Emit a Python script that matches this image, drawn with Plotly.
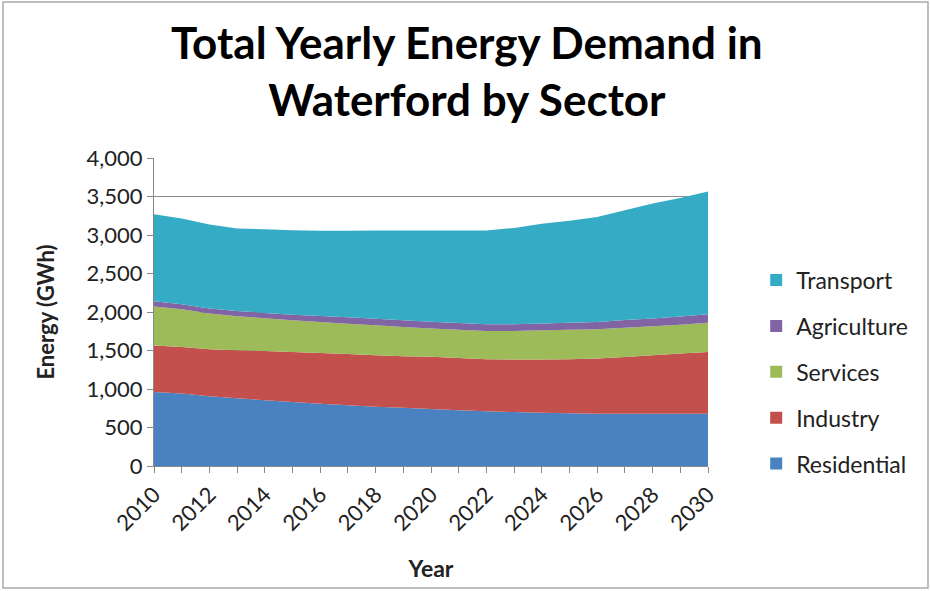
import plotly.graph_objects as go

years = list(range(2010, 2031))
residential = [960, 940, 905, 880, 855, 830, 810, 790, 770, 755, 740, 725, 710, 700, 690, 685, 680, 680, 680, 680, 680]
industry = [604, 605, 611, 623, 639, 651, 658, 665, 668, 670, 678, 678, 676, 682, 692, 701, 715, 736, 758, 780, 801]
services = [508, 490, 463, 443, 426, 411, 402, 394, 389, 380, 368, 368, 367, 371, 380, 382, 380, 381, 376, 376, 381]
agriculture = [68, 67, 66, 67, 68, 72, 78, 83, 85, 87, 87, 87, 87, 88, 89, 92, 96, 100, 103, 106, 110]
transport = [1129, 1111, 1090, 1070, 1086, 1099, 1107, 1123, 1146, 1168, 1187, 1202, 1220, 1250, 1296, 1325, 1364, 1424, 1491, 1539, 1593]

series = [
    ("Residential", residential, "#4A82C1"),
    ("Industry", industry, "#C3504C"),
    ("Services", services, "#9DBB59"),
    ("Agriculture", agriculture, "#8164A3"),
    ("Transport", transport, "#35ABC6"),
]

FONT = "Lato"
fig = go.Figure()
for name, vals, col in series:
    fig.add_trace(go.Scatter(
        x=years, y=vals, name=name, stackgroup="one", mode="none",
        fillcolor=col, line=dict(width=0), showlegend=False,
        hoverinfo="x+y+name",
    ))
for name, vals, col in reversed(series):
    fig.add_trace(go.Scatter(
        x=[None], y=[None], name=name, mode="markers",
        marker=dict(symbol="square", size=16, color=col),
        legendgroup=name, showlegend=True,
    ))

fig.update_layout(
    width=930, height=591,
    paper_bgcolor="white", plot_bgcolor="white",
    margin=dict(l=154, r=222, t=158, b=125),
    font=dict(family=FONT, color="#222"),
    legend=dict(
        x=1.087, xanchor="left", y=0.305, yanchor="middle",
        traceorder="grouped", tracegroupgap=13,
        font=dict(family=FONT, size=23, color="#222"),
        itemsizing="constant",
    ),
    showlegend=True,
)
fig.add_annotation(
    text="<b>Total Yearly Energy Demand in<br>Waterford by Sector</b>",
    xref="paper", yref="paper", x=0.565, y=1.283,
    xanchor="center", yanchor="middle", showarrow=False,
    font=dict(family=FONT, size=44, color="black"),
)
fig.update_xaxes(
    range=[2010, 2030], dtick=2, tick0=2010, tickangle=-45,
    ticks="outside", ticklen=6, tickcolor="#888",
    minor=dict(dtick=1, ticks="outside", ticklen=6, tickcolor="#888"),
    showline=True, linecolor="#888", linewidth=1, showgrid=False, zeroline=False,
    tickfont=dict(family=FONT, size=22, color="#222"),
    title=dict(text="<b>Year</b>", font=dict(family=FONT, size=23, color="#222"), standoff=26),
)
fig.update_yaxes(
    range=[0, 4000], dtick=500, tickformat=",",
    ticks="outside", ticklen=6, tickcolor="#888",
    showline=True, linecolor="#888", linewidth=1,
    showgrid=True, gridcolor="#8c8c8c", gridwidth=1, zeroline=False,
    tickfont=dict(family=FONT, size=22, color="#222"),
    title=dict(text="<b>Energy (GWh)</b>", font=dict(family=FONT, size=22, color="#222"), standoff=25),
)
fig.add_shape(type="rect", xref="paper", yref="paper",
              x0=-0.2726, x1=1.3971, y0=-0.396, y1=1.5065,
              line=dict(color="#aaa", width=1.5), layer="below")

fig.write_html("out.html", config={"displayModeBar": False},
               post_script="document.body.style.margin='0px';")
